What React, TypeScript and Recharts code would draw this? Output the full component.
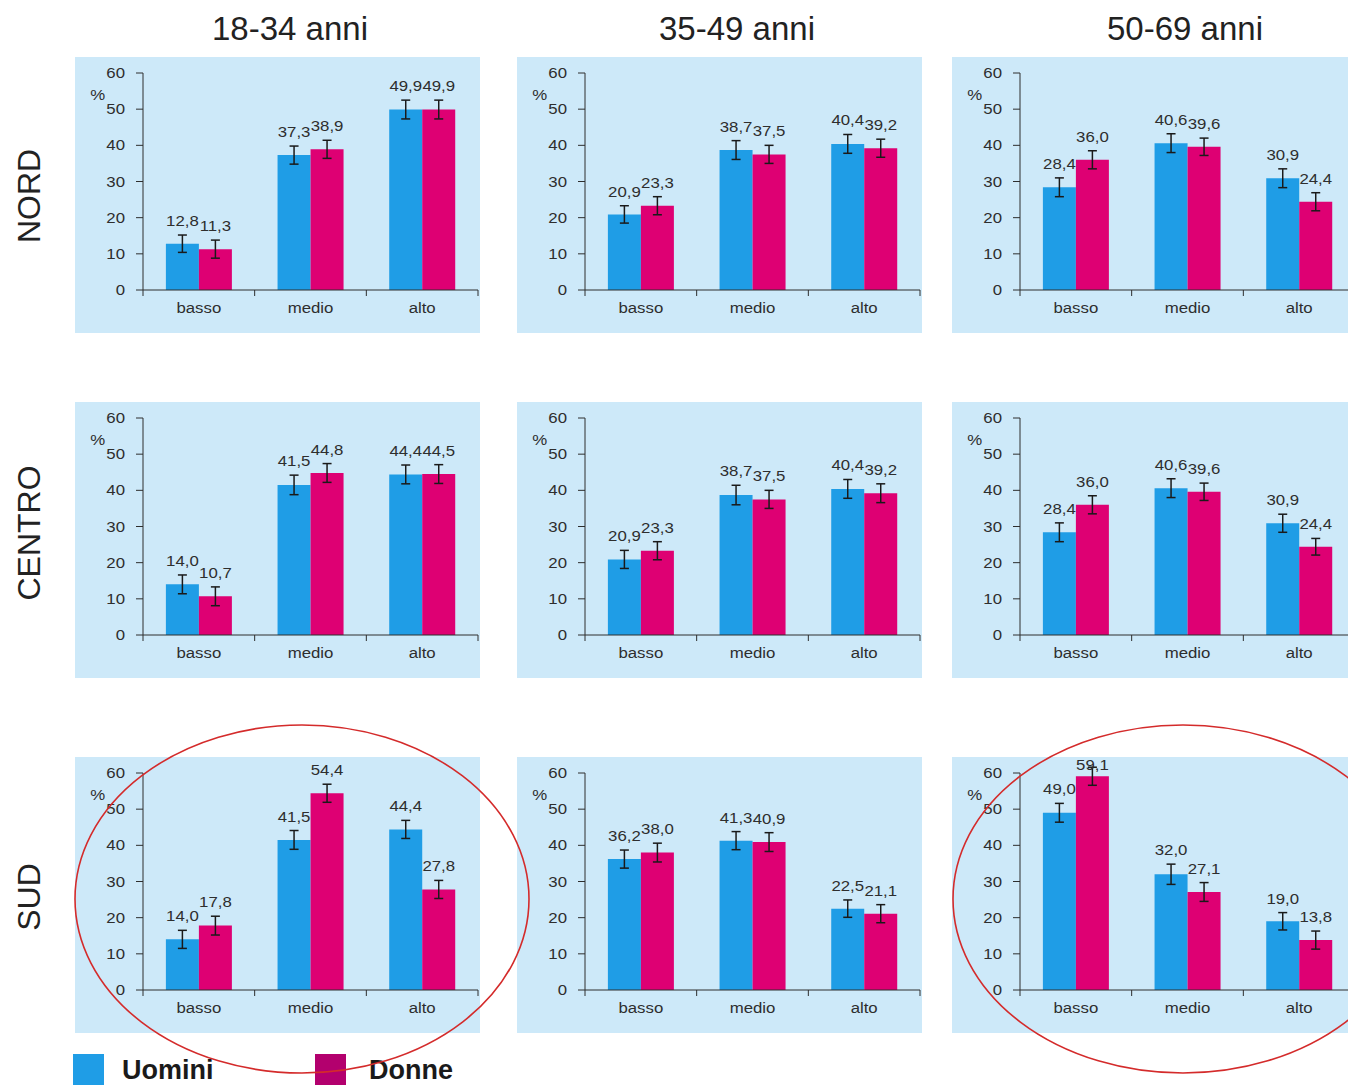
import { BarChart, Bar, XAxis, YAxis, ErrorBar, LabelList } from 'recharts';

const fasce = ['18-34 anni', '35-49 anni', '50-69 anni'];
const aree = ['NORD', 'CENTRO', 'SUD'];
const livelli = ['basso', 'medio', 'alto'];
const yTicks = [0, 10, 20, 30, 40, 50, 60];

/* percentuali per livello (basso, medio, alto) */
const nord1834Uomini = [12.8, 37.3, 49.9];
const nord1834Donne = [11.3, 38.9, 49.9];
const nord3549Uomini = [20.9, 38.7, 40.4];
const nord3549Donne = [23.3, 37.5, 39.2];
const nord5069Uomini = [28.4, 40.6, 30.9];
const nord5069Donne = [36.0, 39.6, 24.4];
const centro1834Uomini = [14.0, 41.5, 44.4];
const centro1834Donne = [10.7, 44.8, 44.5];
const centro3549Uomini = [20.9, 38.7, 40.4];
const centro3549Donne = [23.3, 37.5, 39.2];
const centro5069Uomini = [28.4, 40.6, 30.9];
const centro5069Donne = [36.0, 39.6, 24.4];
const sud1834Uomini = [14.0, 41.5, 44.4];
const sud1834Donne = [17.8, 54.4, 27.8];
const sud3549Uomini = [36.2, 41.3, 22.5];
const sud3549Donne = [38.0, 40.9, 21.1];
const sud5069Uomini = [49.0, 32.0, 19.0];
const sud5069Donne = [59.1, 27.1, 13.8];

/* semi-ampiezza intervalli di confidenza (stimata) */
const nord1834ErrU = [2.4, 2.5, 2.6];
const nord1834ErrD = [2.5, 2.5, 2.6];
const nord3549ErrU = [2.4, 2.6, 2.6];
const nord3549ErrD = [2.5, 2.5, 2.5];
const nord5069ErrU = [2.6, 2.6, 2.6];
const nord5069ErrD = [2.5, 2.4, 2.5];
const centro1834ErrU = [2.6, 2.7, 2.6];
const centro1834ErrD = [2.6, 2.6, 2.6];
const centro3549ErrU = [2.5, 2.7, 2.6];
const centro3549ErrD = [2.5, 2.5, 2.6];
const centro5069ErrU = [2.6, 2.6, 2.5];
const centro5069ErrD = [2.5, 2.4, 2.3];
const sud1834ErrU = [2.5, 2.6, 2.5];
const sud1834ErrD = [2.6, 2.5, 2.5];
const sud3549ErrU = [2.5, 2.5, 2.4];
const sud3549ErrD = [2.6, 2.6, 2.5];
const sud5069ErrU = [2.6, 2.8, 2.4];
const sud5069ErrD = [2.5, 2.6, 2.5];

const panels = [
  [
    [nord1834Uomini, nord1834Donne, nord1834ErrU, nord1834ErrD],
    [nord3549Uomini, nord3549Donne, nord3549ErrU, nord3549ErrD],
    [nord5069Uomini, nord5069Donne, nord5069ErrU, nord5069ErrD],
  ],
  [
    [centro1834Uomini, centro1834Donne, centro1834ErrU, centro1834ErrD],
    [centro3549Uomini, centro3549Donne, centro3549ErrU, centro3549ErrD],
    [centro5069Uomini, centro5069Donne, centro5069ErrU, centro5069ErrD],
  ],
  [
    [sud1834Uomini, sud1834Donne, sud1834ErrU, sud1834ErrD],
    [sud3549Uomini, sud3549Donne, sud3549ErrU, sud3549ErrD],
    [sud5069Uomini, sud5069Donne, sud5069ErrU, sud5069ErrD],
  ],
];

const BLUE = '#1f9de6';
const MAGENTA = '#de0073';
const PANEL_BG = '#cde9f9';
const INK = '#2e2e2e';
const FONT = '"Liberation Sans", Arial, sans-serif';
const STRETCH = 1.12;
const FS = 15;

const colLeft = [75, 517, 952];
const rowTop = [57, 402, 757];
const PANEL_W = 405;
const PANEL_H = 276;

const fmt = (v: number) => v.toFixed(1).replace('.', ',');

function YTick(props: any) {
  const { x, y, payload } = props;
  return (
    <text
      transform={`translate(${x},${y + 5}) scale(${STRETCH},1)`}
      textAnchor="end"
      fontSize={FS}
      fontFamily={FONT}
      fill={INK}
    >
      {payload.value}
    </text>
  );
}

function XTick(props: any) {
  const { x, y, payload, index } = props;
  const half = payload.offset || 335 / 6;
  const axisY = y - 10;
  return (
    <g>
      <line x1={x - half} x2={x - half} y1={axisY} y2={axisY + 6} stroke={INK} strokeWidth={1} />
      {index === livelli.length - 1 && (
        <line x1={x + half} x2={x + half} y1={axisY} y2={axisY + 6} stroke={INK} strokeWidth={1} />
      )}
      <text
        transform={`translate(${x},${axisY + 23}) scale(${STRETCH},1)`}
        textAnchor="middle"
        fontSize={FS}
        fontFamily={FONT}
        fill={INK}
      >
        {payload.value}
      </text>
    </g>
  );
}

const valueLabel = (errs: number[]) => (props: any) => {
  const { x, y, width, height, value, index } = props;
  const v = Number(value);
  if (!v) return null;
  const ppu = height / v;
  const zero = y + height;
  const errTop = y - errs[index] * ppu;
  const plotTop = zero - yTicks[yTicks.length - 1] * ppu;
  const base = Math.max(errTop - 9, plotTop - 3);
  return (
    <text
      transform={`translate(${x + width / 2},${base}) scale(${STRETCH},1)`}
      textAnchor="middle"
      fontSize={FS}
      fontFamily={FONT}
      fill={INK}
    >
      {fmt(v)}
    </text>
  );
};

function Panel({ uomini, donne, errU, errD }: { uomini: number[]; donne: number[]; errU: number[]; errD: number[] }) {
  const data = livelli.map((livello, i) => ({
    livello,
    uomini: uomini[i],
    donne: donne[i],
    errU: errU[i],
    errD: errD[i],
  }));

  return (
    <BarChart
      width={PANEL_W}
      height={PANEL_H}
      data={data}
      margin={{ top: 16, right: 2, bottom: 0, left: 0 }}
      barCategoryGap="20.5%"
      barGap={0}
    >
      <XAxis
        dataKey="livello"
        height={43}
        axisLine={{ stroke: INK }}
        tickLine={false}
        tickSize={6}
        tickMargin={4}
        tick={<XTick />}
        interval={0}
      />
      <YAxis
        width={68}
        domain={[0, 60]}
        allowDataOverflow
        ticks={yTicks}
        axisLine={{ stroke: INK }}
        tickLine={{ stroke: INK }}
        tickSize={7}
        tickMargin={11}
        tick={<YTick />}
        interval={0}
      />
      <Bar dataKey="uomini" fill={BLUE} isAnimationActive={false}>
        <ErrorBar dataKey="errU" width={4.5} strokeWidth={1.5} stroke="#1a1a1a" direction="y" isAnimationActive={false} />
        <LabelList dataKey="uomini" content={valueLabel(errU)} />
      </Bar>
      <Bar dataKey="donne" fill={MAGENTA} isAnimationActive={false}>
        <ErrorBar dataKey="errD" width={4.5} strokeWidth={1.5} stroke="#1a1a1a" direction="y" isAnimationActive={false} />
        <LabelList dataKey="donne" content={valueLabel(errD)} />
      </Bar>
    </BarChart>
  );
}

const titleX = [290, 737, 1185];
const rowLabelY = [196, 533, 897];

export default function App() {
  return (
    <div
      style={{
        position: 'absolute',
        left: 0,
        top: 0,
        width: 1348,
        height: 1086,
        overflow: 'hidden',
        background: '#fff',
        fontFamily: FONT,
      }}
    >
      {panels.map((row, r) =>
        row.map(([u, d, eu, ed], c) => (
          <div
            key={`${r}-${c}`}
            style={{
              position: 'absolute',
              left: colLeft[c],
              top: rowTop[r],
              width: PANEL_W,
              height: PANEL_H,
              background: PANEL_BG,
            }}
          >
            <Panel uomini={u} donne={d} errU={eu} errD={ed} />
            <div
              style={{
                position: 'absolute',
                left: 16,
                top: 29,
                fontSize: FS,
                lineHeight: '17px',
                color: INK,
                transform: `scaleX(${STRETCH})`,
              }}
            >
              %
            </div>
          </div>
        ))
      )}

      <svg
        width={1348}
        height={1086}
        style={{ position: 'absolute', left: 0, top: 0, pointerEvents: 'none' }}
      >
        {fasce.map((t, i) => (
          <text key={t} x={titleX[i]} y={40} textAnchor="middle" fontSize={33} fontFamily={FONT} fill="#222">
            {t}
          </text>
        ))}
        {aree.map((t, i) => (
          <text
            key={t}
            transform={`translate(40,${rowLabelY[i]}) rotate(-90)`}
            textAnchor="middle"
            fontSize={32}
            fontFamily={FONT}
            fill="#222"
          >
            {t}
          </text>
        ))}

        <rect x={73} y={1054} width={31} height={31} fill={BLUE} />
        <text x={122} y={1079} fontSize={27} fontWeight="bold" fontFamily={FONT} fill="#1a1a1a">
          Uomini
        </text>
        <rect x={315} y={1054} width={31} height={31} fill="#b3006e" />
        <text x={369} y={1079} fontSize={27} fontWeight="bold" fontFamily={FONT} fill="#1a1a1a">
          Donne
        </text>

        <ellipse cx={302} cy={899} rx={227} ry={174} fill="none" stroke="#d42b2b" strokeWidth={1.6} />
        <ellipse cx={1183} cy={899} rx={230} ry={174} fill="none" stroke="#d42b2b" strokeWidth={1.6} />
      </svg>
    </div>
  );
}
